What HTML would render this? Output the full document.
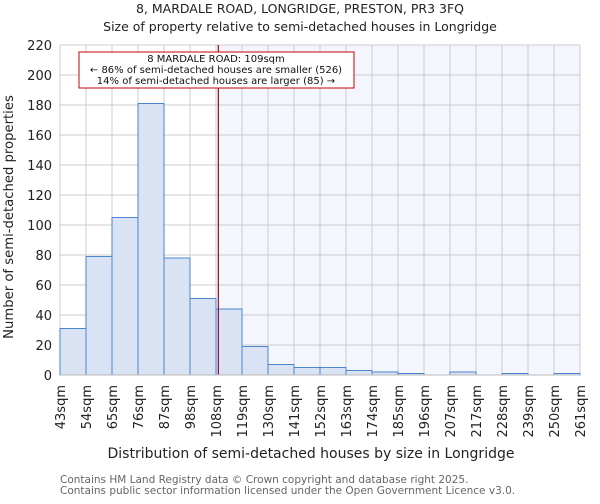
<!DOCTYPE html>
<html><head><meta charset="utf-8"><style>
body{margin:0;background:#fff;font-family:"DejaVu Sans","Liberation Sans",sans-serif}
</style></head><body>
<svg id="chart" width="600" height="500" xmlns="http://www.w3.org/2000/svg" font-family="DejaVu Sans, Liberation Sans, sans-serif">
<text x="300" y="13" text-anchor="middle" font-size="12.5" fill="#222">8, MARDALE ROAD, LONGRIDGE, PRESTON, PR3 3FQ</text>
<text x="300" y="31" text-anchor="middle" font-size="12.5" fill="#222">Size of property relative to semi-detached houses in Longridge</text>
<g id="plot"></g>
<text x="311" y="458" text-anchor="middle" font-size="14" fill="#222">Distribution of semi-detached houses by size in Longridge</text>
<text transform="translate(13,217) rotate(-90)" text-anchor="middle" font-size="13.2" fill="#222">Number of semi-detached properties</text>
<text x="60" y="483" font-size="10.5" fill="#666">Contains HM Land Registry data © Crown copyright and database right 2025.</text>
<text x="60" y="494" font-size="10.5" fill="#666">Contains public sector information licensed under the Open Government Licence v3.0.</text>
</svg>
<script>
const binLabels=["43sqm","54sqm","65sqm","76sqm","87sqm","98sqm","108sqm","119sqm","130sqm","141sqm","152sqm","163sqm","174sqm","185sqm","196sqm","207sqm","217sqm","228sqm","239sqm","250sqm","261sqm"];
const counts=[31,79,105,181,78,51,44,19,7,5,5,3,2,1,0,2,0,1,0,1];
const yTicks=[0,20,40,60,80,100,120,140,160,180,200,220];
const markerBin=6.09;
const NS="http://www.w3.org/2000/svg";
const L=60,R=580,T=45,B=375,YMAX=220;
const nb=counts.length;
const xs=i=>L+(R-L)*i/nb;
const ys=v=>B-(B-T)*v/YMAX;
const g=document.getElementById('plot');
function mk(t,a){const e=document.createElementNS(NS,t);for(const k in a)e.setAttribute(k,a[k]);g.appendChild(e);return e;}
const mx=xs(markerBin);
let e=mk('rect',{x:mx,y:T,width:R-mx,height:B-T,fill:'#f4f6fd'});


yTicks.forEach(v=>{
 let l=mk('line',{x1:L,x2:R,y1:ys(v),y2:ys(v),stroke:'#ccc','stroke-width':1});
 
 
 let t=mk('text',{x:L-8,y:ys(v)+5,'text-anchor':'end','font-size':13,fill:'#222'});
 t.textContent=v;
 
 
});
binLabels.forEach((s,i)=>{
 let l=mk('line',{x1:xs(i),x2:xs(i),y1:T,y2:B,stroke:'#ccc','stroke-width':1});
 
 
 let t=mk('text',{transform:`translate(${xs(i)+5},385) rotate(-90)`,'text-anchor':'end','font-size':13,fill:'#222'});
 t.textContent=s;
 
 
});
counts.forEach((c,i)=>{
 if(c<=0)return;
 let r=mk('rect',{x:xs(i),y:ys(c),width:xs(i+1)-xs(i),height:B-ys(c),fill:'#dae3f3',stroke:'#4a86d0','stroke-width':1});
 
 
});
e=mk('line',{x1:mx,x2:mx,y1:T,y2:B,stroke:'#8a1020','stroke-width':1.2});


e=mk('line',{x1:L,x2:R,y1:B,y2:B,stroke:'#bbb','stroke-width':1});


e=mk('rect',{x:79,y:52,width:275,height:36,fill:'#fff',stroke:'#c00','stroke-width':1});


["8 MARDALE ROAD: 109sqm","← 86% of semi-detached houses are smaller (526)","14% of semi-detached houses are larger (85) →"].forEach((s,i)=>{
 let t=mk('text',{x:216,y:62+i*11,'text-anchor':'middle','font-size':10,fill:'#111'});
 t.textContent=s;
 
 
});
</script>
</body></html>
